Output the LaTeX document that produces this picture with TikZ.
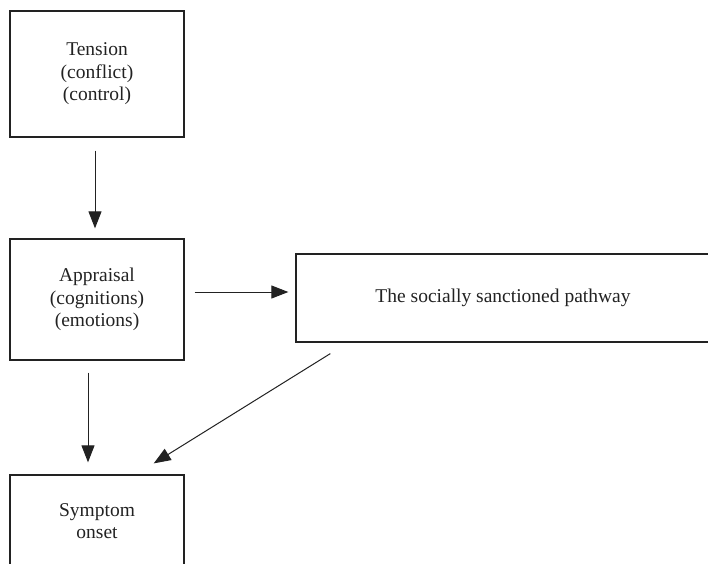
\documentclass[tikz,border=0pt]{standalone}
\usepackage{fontspec}
\setmainfont{Liberation Serif}
\usetikzlibrary{arrows.meta}
\definecolor{ink}{HTML}{222222}
\tikzset{
  box/.style={draw=ink, line width=1.3pt, inner sep=0pt, align=center,
    font=\fontsize{19.5}{22.5}\selectfont, text=ink},
  conn/.style={draw=ink, line width=1pt, -{Triangle[length=17pt,width=13pt]}}
}
\begin{document}
\begin{tikzpicture}[x=1pt,y=-1pt]
\clip (0,0) rectangle (708,563);
\fill[white] (0,0) rectangle (708,563);
\node[box, minimum width=174pt, minimum height=126pt] (tension) at (97,74)
  {Tension\\(conflict)\\(control)};
\node[box, minimum width=174pt, minimum height=121pt] (appraisal) at (97,299.5)
  {Appraisal\\(cognitions)\\(emotions)};
\node[box, minimum width=414pt, minimum height=88pt] (social) at (503,298)
  {The socially sanctioned pathway};
\node[box, minimum width=174pt, minimum height=92pt] (symptom) at (97,521)
  {Symptom\\onset};
\draw[conn, shorten <=13pt, shorten >=10pt]
  ([xshift=-2pt]tension.south) -- ([xshift=-2pt]appraisal.north);
\draw[conn, shorten <=10pt, shorten >=7pt]
  ([yshift=7.5pt]appraisal.east) -- ([yshift=7.5pt]appraisal.east -| social.west);
\draw[conn, shorten <=12pt, shorten >=12pt]
  ([xshift=-9pt]appraisal.south) -- ([xshift=-9pt]symptom.north);
\draw[conn, shorten <=20.8pt, shorten >=20.8pt]
  ([xshift=52.6pt]social.south west) -- ([xshift=-48.6pt]symptom.north east);
\end{tikzpicture}
\end{document}
